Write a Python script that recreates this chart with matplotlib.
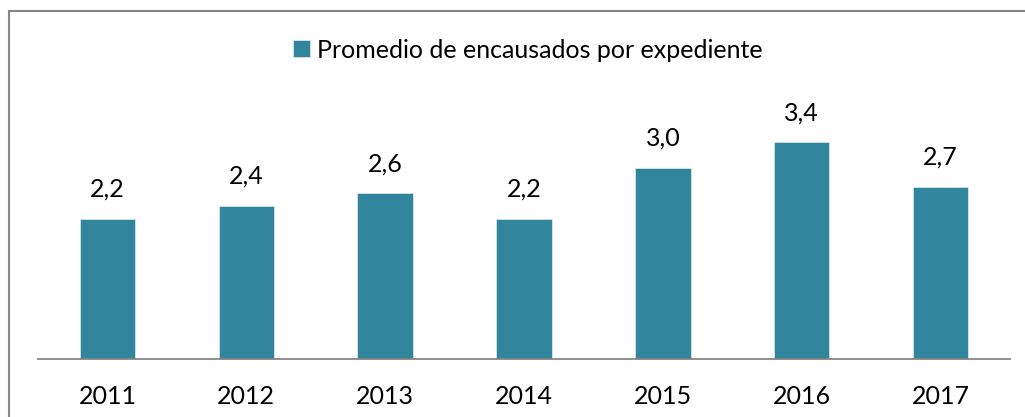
import matplotlib.pyplot as plt
from matplotlib.patches import Rectangle

years = ['2011', '2012', '2013', '2014', '2015', '2016', '2017']
promedio = [2.2, 2.4, 2.6, 2.2, 3.0, 3.4, 2.7]
etiquetas = ['2,2', '2,4', '2,6', '2,2', '3,0', '3,4', '2,7']

plt.rcParams['font.family'] = ['Lato', 'DejaVu Sans']

W, H = 1025, 417
fig = plt.figure(figsize=(W / 100, H / 100), dpi=100)
# gray frame, right and bottom edges fall outside the picture
fig.patches.append(Rectangle((8.5 / W, -0.2), 1.2, 1.2 - 10.5 / H, transform=fig.transFigure,
                             fill=False, edgecolor='#878787', linewidth=1.5))

ax = fig.add_axes([38 / W, 58 / H, 972 / W, (359 - 104) / H])
x = range(len(years))
bars = ax.bar(x, promedio, width=0.4, color='#31859C', edgecolor='#d6e6ee',
              linewidth=0.6, zorder=2)
for b, t in zip(bars, etiquetas):
    ax.annotate(t, (b.get_x() + b.get_width() / 2, b.get_height()), xytext=(0, 18),
                textcoords='offset pixels', ha='center', va='bottom', fontsize=18)

ax.set_xlim(-0.5, len(years) - 0.5)
ax.set_ylim(0, 4)
ax.set_xticks(list(x))
ax.set_xticklabels(years, fontsize=18)
ax.tick_params(axis='x', length=0, pad=19)
ax.set_yticks([])
for s in ['left', 'right', 'top']:
    ax.spines[s].set_visible(False)
ax.spines['bottom'].set_color('#868686')
ax.spines['bottom'].set_linewidth(1.3)

fig.legend(handles=[bars], labels=['Promedio de encausados por expediente'],
           loc='center', bbox_to_anchor=(528 / W, 1 - 50 / H), frameon=False,
           fontsize=18, handlelength=0.65, handleheight=0.65, handletextpad=0.3)

fig.savefig('out.png', dpi=100)
